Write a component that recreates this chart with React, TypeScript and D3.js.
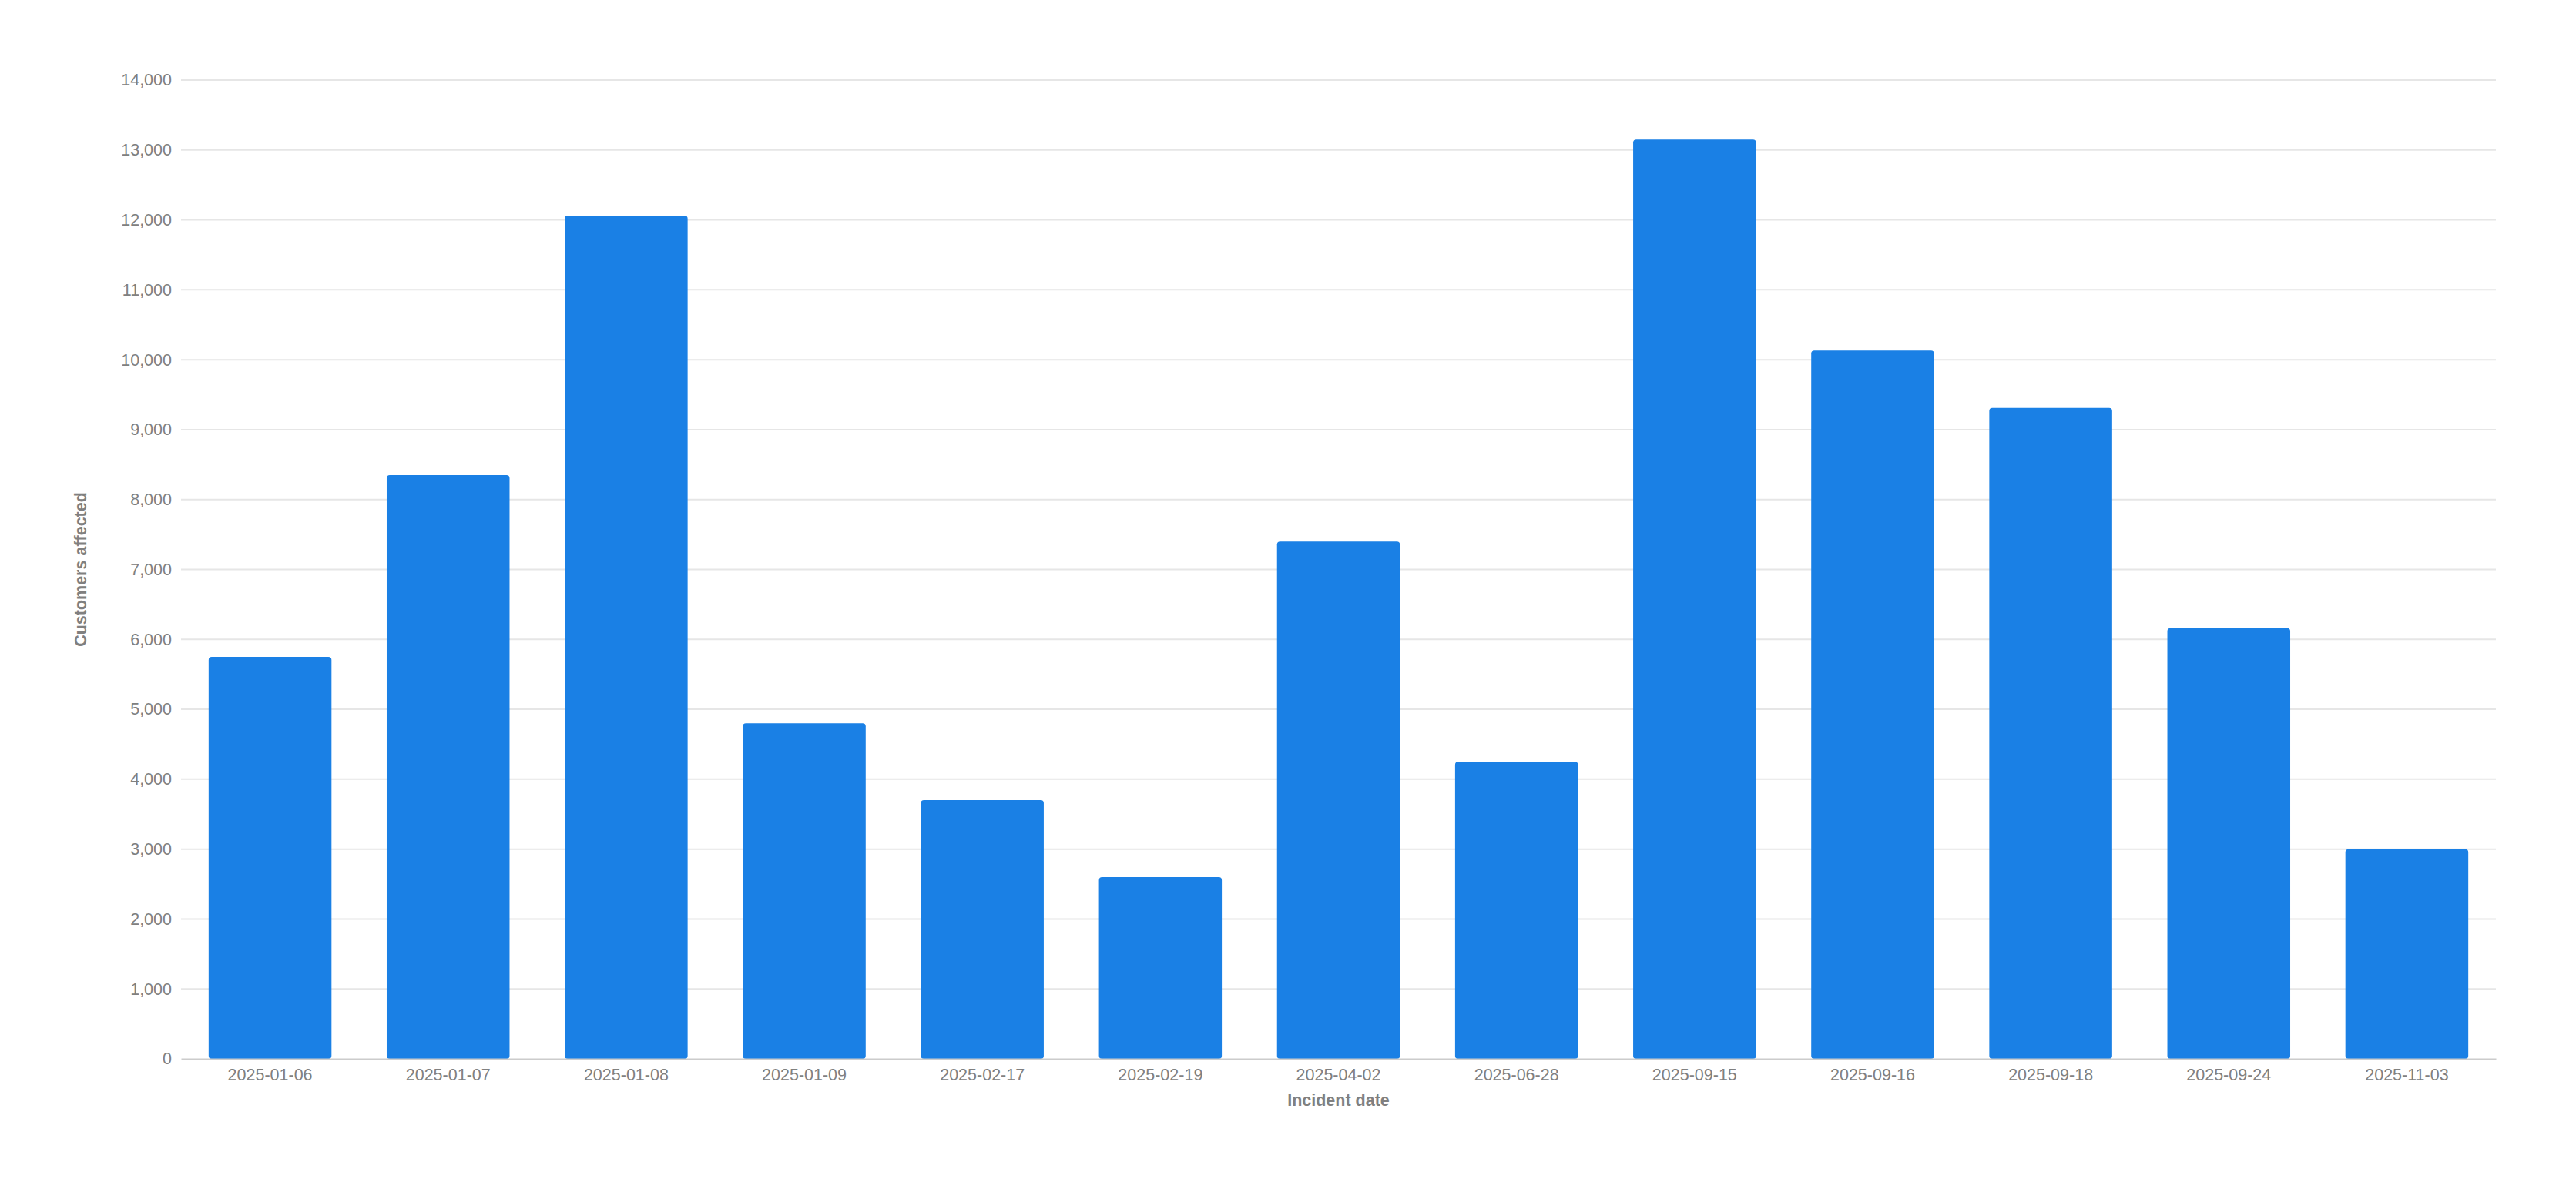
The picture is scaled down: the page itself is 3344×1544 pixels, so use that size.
import { useEffect, useRef } from "react";
import * as d3 from "d3";

const width = 3344;
const height = 1544;
const margin = { top: 104, right: 104, bottom: 169, left: 235 };

// incident dates (x categories)
const incidentDates = [
  "2025-01-06",
  "2025-01-07",
  "2025-01-08",
  "2025-01-09",
  "2025-02-17",
  "2025-02-19",
  "2025-04-02",
  "2025-06-28",
  "2025-09-15",
  "2025-09-16",
  "2025-09-18",
  "2025-09-24",
  "2025-11-03",
];

// customers affected per incident
const customersAffected = [
  5750, 8350, 12060, 4800, 3700, 2600, 7400, 4250, 13150, 10130, 9310, 6160, 3000,
];

const yTicks = d3.range(0, 14001, 1000);

const barColor = "#1a80e5";
const textColor = "#808080";
const fontFamily = "'Liberation Sans', Arial, sans-serif";

type Row = { date: string; value: number };

export default function App() {
  const svgRef = useRef<SVGSVGElement | null>(null);

  useEffect(() => {
    if (!svgRef.current) return;
    const svg = d3.select(svgRef.current);
    svg.selectAll("*").remove();

    const rows: Row[] = incidentDates.map((date, i) => ({
      date,
      value: customersAffected[i],
    }));

    const x = d3
      .scaleBand<string>()
      .domain(incidentDates)
      .range([margin.left, width - margin.right])
      .paddingInner(0.31)
      .paddingOuter(0.155);

    const y = d3
      .scaleLinear()
      .domain([0, 14000])
      .range([height - margin.bottom, margin.top]);

    // gridlines
    svg
      .append("g")
      .selectAll("line")
      .data(yTicks.filter((d) => d > 0))
      .join("line")
      .attr("x1", margin.left)
      .attr("x2", width - margin.right)
      .attr("y1", (d) => y(d))
      .attr("y2", (d) => y(d))
      .attr("stroke", "#e6e6e6")
      .attr("stroke-width", 2);

    // y axis labels
    const yAxis = svg
      .append("g")
      .attr("transform", `translate(${margin.left - 12}, 0)`)
      .call(
        d3
          .axisLeft(y)
          .tickValues(yTicks)
          .tickSize(0)
          .tickPadding(0)
          .tickFormat((d) => d3.format(",")(d as number)),
      );
    yAxis.select(".domain").remove();
    yAxis
      .selectAll("text")
      .attr("fill", textColor)
      .style("font-family", fontFamily)
      .style("font-size", "21.5px");

    // bars
    svg
      .append("g")
      .selectAll("rect")
      .data(rows)
      .join("rect")
      .attr("x", (d) => x(d.date) ?? 0)
      .attr("y", (d) => y(d.value))
      .attr("width", x.bandwidth())
      .attr("height", (d) => y(0) - y(d.value))
      .attr("rx", 4)
      .attr("fill", barColor);

    // x axis
    const xAxis = svg
      .append("g")
      .attr("transform", `translate(0, ${height - margin.bottom})`)
      .call(d3.axisBottom(x).tickSize(0).tickPadding(13));
    xAxis
      .select(".domain")
      .attr("stroke", "#cccccc")
      .attr("stroke-width", 2);
    xAxis
      .selectAll("text")
      .attr("fill", textColor)
      .style("font-family", fontFamily)
      .style("font-size", "21.5px");

    // axis titles
    svg
      .append("text")
      .attr("x", (margin.left + width - margin.right) / 2)
      .attr("y", 1436)
      .attr("text-anchor", "middle")
      .attr("fill", textColor)
      .style("font-family", fontFamily)
      .style("font-size", "21.5px")
      .style("font-weight", "700")
      .text("Incident date");

    svg
      .append("text")
      .attr("transform", `translate(112, ${(y(0) + y(14000)) / 2}) rotate(-90)`)
      .attr("text-anchor", "middle")
      .attr("fill", textColor)
      .style("font-family", fontFamily)
      .style("font-size", "21.5px")
      .style("font-weight", "700")
      .text("Customers affected");
  }, []);

  return (
    <svg
      ref={svgRef}
      width={width}
      height={height}
      viewBox={`0 0 ${width} ${height}`}
      style={{ position: "absolute", left: 0, top: 0, background: "#ffffff" }}
    />
  );
}
